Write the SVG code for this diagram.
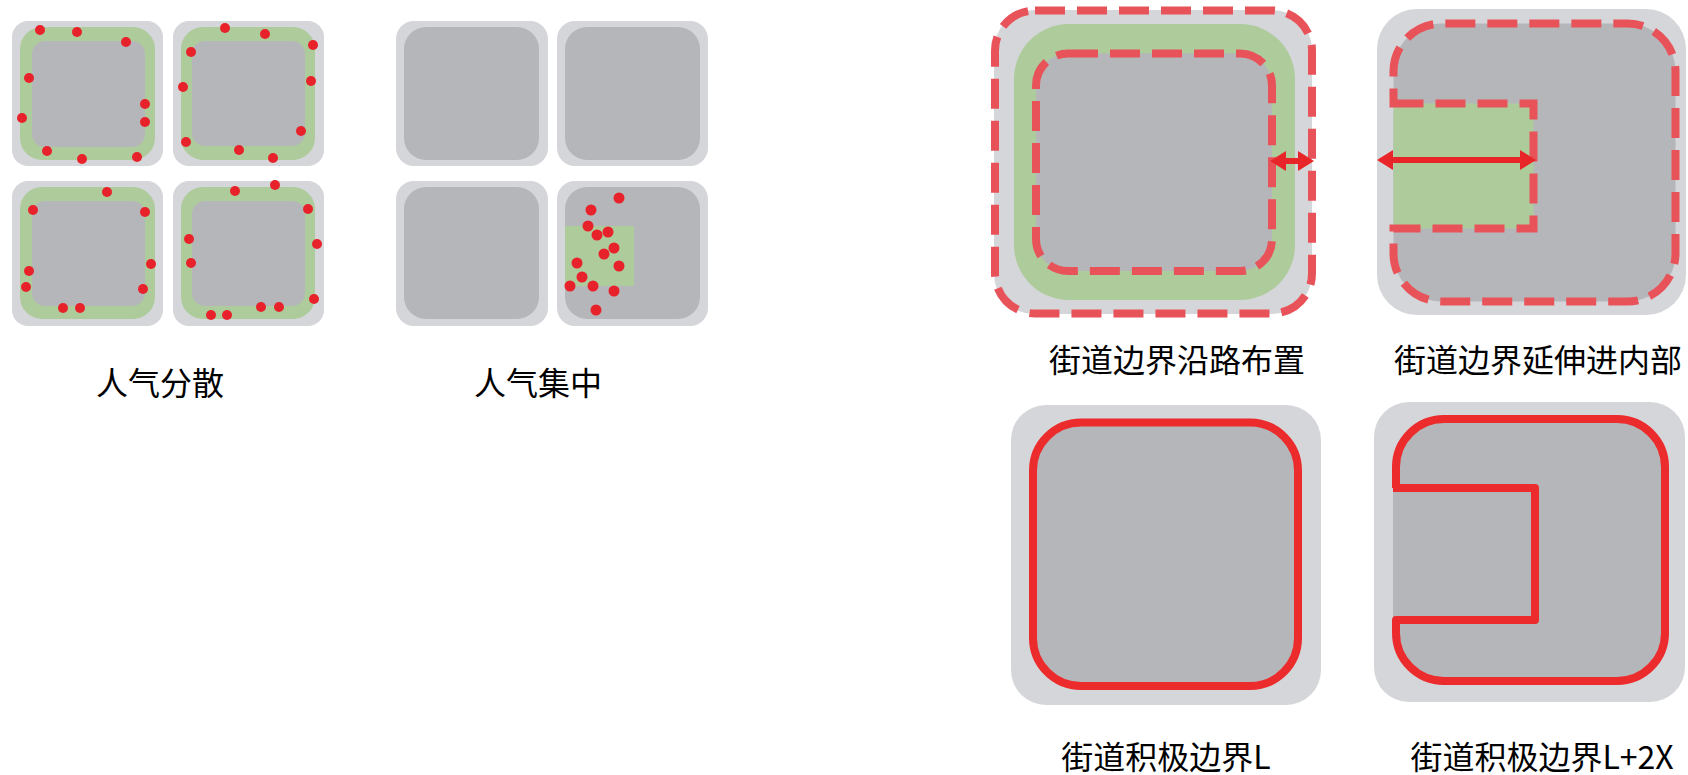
<svg xmlns="http://www.w3.org/2000/svg" width="1688" height="775" viewBox="0 0 1688 775">
<style>
.lg{fill:#d5d6d9}
.dg{fill:#b5b6b9}
.gr{fill:#aecb9c}
.dot{fill:#e8222a}
.dash{fill:none;stroke:#e8535a;stroke-width:8;stroke-dasharray:30 12}
.solid{stroke:#ec2b2d;stroke-width:8;stroke-linejoin:round}
.arrow{stroke:#e8262a;stroke-width:6;fill:none}
.lbl{font-family:"Noto Sans CJK SC","Noto Sans",sans-serif;font-size:32px;fill:#000;text-anchor:middle}
</style>
<defs>
<marker id="ah" markerUnits="userSpaceOnUse" markerWidth="17" markerHeight="24" viewBox="0 -12 17 24" refX="1" refY="0" orient="auto-start-reverse">
<path d="M0,-10 L16,0 L0,10 Z" fill="#e8262a"/>
</marker>
</defs>
<rect width="1688" height="775" fill="#ffffff"/>

<g id="scatter">
<g id="s-tl">
<rect class="lg" x="12" y="21" width="151" height="145" rx="16"/>
<rect class="gr" x="20" y="27" width="135" height="133" rx="22"/>
<rect class="dg" x="32" y="41" width="113" height="106" rx="13"/>
</g>
<g id="s-tr">
<rect class="lg" x="173" y="21" width="151" height="145" rx="16"/>
<rect class="gr" x="181" y="27" width="134" height="133" rx="22"/>
<rect class="dg" x="192" y="41" width="113" height="105" rx="13"/>
</g>
<g id="s-bl">
<rect class="lg" x="12" y="181" width="151" height="145" rx="16"/>
<rect class="gr" x="20" y="187" width="135" height="132" rx="22"/>
<rect class="dg" x="32" y="201" width="113" height="105" rx="13"/>
</g>
<g id="s-br">
<rect class="lg" x="173" y="181" width="151" height="145" rx="16"/>
<rect class="gr" x="181" y="187" width="134" height="132" rx="22"/>
<rect class="dg" x="192" y="201" width="113" height="105" rx="13"/>
</g>
<g id="s-dots">
<circle class="dot" r="5" cx="40" cy="30"/><circle class="dot" r="5" cx="77" cy="32"/><circle class="dot" r="5" cx="126" cy="42"/><circle class="dot" r="5" cx="29" cy="78"/><circle class="dot" r="5" cx="22" cy="118"/><circle class="dot" r="5" cx="145" cy="104"/><circle class="dot" r="5" cx="145" cy="122"/><circle class="dot" r="5" cx="47" cy="151"/><circle class="dot" r="5" cx="82" cy="159"/><circle class="dot" r="5" cx="137" cy="157"/>
<circle class="dot" r="5" cx="225" cy="28"/><circle class="dot" r="5" cx="265" cy="34"/><circle class="dot" r="5" cx="313" cy="45"/><circle class="dot" r="5" cx="191" cy="52"/><circle class="dot" r="5" cx="183" cy="87"/><circle class="dot" r="5" cx="311" cy="81"/><circle class="dot" r="5" cx="301" cy="131"/><circle class="dot" r="5" cx="186" cy="142"/><circle class="dot" r="5" cx="239" cy="150"/><circle class="dot" r="5" cx="273" cy="158"/>
<circle class="dot" r="5" cx="107" cy="192"/><circle class="dot" r="5" cx="33" cy="210"/><circle class="dot" r="5" cx="145" cy="212"/><circle class="dot" r="5" cx="29" cy="271"/><circle class="dot" r="5" cx="26" cy="287"/><circle class="dot" r="5" cx="151" cy="264"/><circle class="dot" r="5" cx="143" cy="289"/><circle class="dot" r="5" cx="63" cy="308"/><circle class="dot" r="5" cx="80" cy="308"/>
<circle class="dot" r="5" cx="235" cy="191"/><circle class="dot" r="5" cx="275" cy="185"/><circle class="dot" r="5" cx="308" cy="209"/><circle class="dot" r="5" cx="189" cy="239"/><circle class="dot" r="5" cx="191" cy="263"/><circle class="dot" r="5" cx="317" cy="244"/><circle class="dot" r="5" cx="314" cy="299"/><circle class="dot" r="5" cx="261" cy="307"/><circle class="dot" r="5" cx="279" cy="307"/><circle class="dot" r="5" cx="211" cy="315"/><circle class="dot" r="5" cx="227" cy="315"/>
</g>
<text class="lbl" x="160" y="395">人气分散</text>
</g>

<g id="concentrate">
<g id="c-tl">
<rect class="lg" x="396" y="21" width="152" height="145" rx="18"/>
<rect class="dg" x="404" y="27" width="135" height="133" rx="22"/>
</g>
<g id="c-tr">
<rect class="lg" x="557" y="21" width="151" height="145" rx="18"/>
<rect class="dg" x="565" y="27" width="135" height="133" rx="22"/>
</g>
<g id="c-bl">
<rect class="lg" x="396" y="181" width="152" height="145" rx="18"/>
<rect class="dg" x="404" y="187" width="135" height="132" rx="22"/>
</g>
<g id="c-br">
<rect class="lg" x="557" y="181" width="151" height="145" rx="18"/>
<rect class="dg" x="565" y="187" width="135" height="132" rx="22"/>
<rect class="gr" x="565" y="226" width="69" height="60"/>
</g>
<g id="c-dots">
<circle class="dot" r="5.5" cx="619" cy="198"/><circle class="dot" r="5.5" cx="591" cy="210"/><circle class="dot" r="5.5" cx="588" cy="226"/><circle class="dot" r="5.5" cx="597" cy="235"/><circle class="dot" r="5.5" cx="608" cy="232"/><circle class="dot" r="5.5" cx="614" cy="248"/><circle class="dot" r="5.5" cx="604" cy="254"/><circle class="dot" r="5.5" cx="577" cy="263"/><circle class="dot" r="5.5" cx="619" cy="266"/><circle class="dot" r="5.5" cx="582" cy="277"/><circle class="dot" r="5.5" cx="570" cy="286"/><circle class="dot" r="5.5" cx="593" cy="286"/><circle class="dot" r="5.5" cx="614" cy="291"/><circle class="dot" r="5.5" cx="596" cy="310"/>
</g>
<text class="lbl" x="538" y="395">人气集中</text>
</g>

<g id="along-road">
<rect class="lg" x="994" y="10" width="318" height="304" rx="40"/>
<rect class="gr" x="1014" y="24" width="281" height="276" rx="55"/>
<rect class="dg" x="1036" y="53.5" width="236" height="217.5" rx="32"/>
<rect class="dash" x="1036" y="53.5" width="236" height="217.5" rx="32"/>
<rect class="dash" x="995" y="10.5" width="317" height="303" rx="40"/>
<text class="lbl" x="1177" y="372">街道边界沿路布置</text>
</g>

<g id="extend-inside">
<rect class="lg" x="1377" y="9" width="309" height="306" rx="40"/>
<rect class="dg" x="1393.5" y="23.5" width="282" height="278" rx="48"/>
<rect class="gr" x="1393.5" y="103.5" width="140" height="125"/>
<path class="dash" d="M1393.5,103.5 H1533.5 V228.5 H1393.5 V253.5 A48,48 0 0 0 1441.5,301.5 H1627.5 A48,48 0 0 0 1675.5,253.5 V71.5 A48,48 0 0 0 1627.5,23.5 H1441.5 A48,48 0 0 0 1393.5,71.5 Z"/>
<text class="lbl" x="1538" y="372">街道边界延伸进内部</text>
</g>

<g id="active-L">
<rect class="lg" x="1011" y="405" width="310" height="300" rx="35"/>
<rect class="dg solid" x="1033" y="422.5" width="265" height="263.5" rx="48"/>
<text class="lbl" x="1166" y="769">街道积极边界L</text>
</g>

<g id="active-L2X">
<rect class="lg" x="1374" y="402" width="311" height="300" rx="35"/>
<rect class="dg" x="1393" y="419" width="272" height="262" rx="48"/>
<path class="solid" fill="none" d="M1393,488 H1535 V620 H1396 V633 A48,48 0 0 0 1444,681 H1617 A48,48 0 0 0 1665,633 V467 A48,48 0 0 0 1617,419 H1444 A48,48 0 0 0 1396,467 V488"/>
<text class="lbl" x="1542" y="769">街道积极边界L+2X</text>
</g>

<g id="connectors">
<line class="arrow" x1="1285" y1="161" x2="1299" y2="161" marker-start="url(#ah)" marker-end="url(#ah)"/>
<line class="arrow" x1="1392" y1="160" x2="1521" y2="160" marker-start="url(#ah)" marker-end="url(#ah)"/>
</g>
</svg>
